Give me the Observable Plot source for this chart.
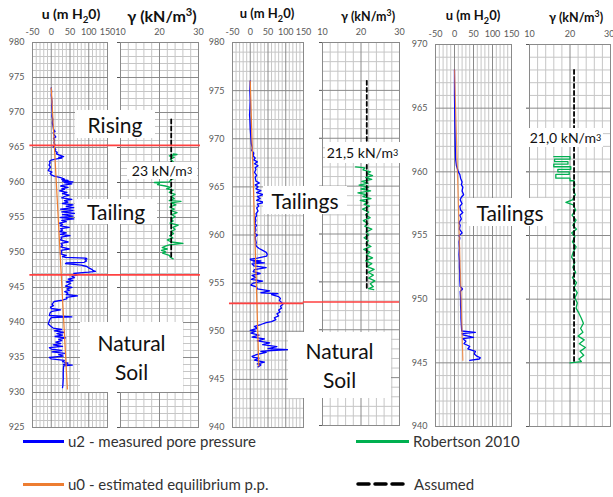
<!DOCTYPE html>
<html><head><meta charset="utf-8">
<script src="https://cdn.jsdelivr.net/npm/d3@7"></script>
<script src="https://cdn.jsdelivr.net/npm/@observablehq/plot@0.6"></script>
<style>
body{margin:0;background:#fff;}
#chart{position:relative;width:613px;height:497px;overflow:hidden;font-family:Lato,"Open Sans",sans-serif;background:#fff;}
#chart svg.layer{position:absolute;left:0;top:0;}
.lbl{position:absolute;background:#fff;color:#111;text-align:center;white-space:nowrap;font-size:21px;}
.ttl{position:absolute;font-weight:bold;color:#111;white-space:nowrap;transform:translate(-50%,-50%);line-height:1;}
.leg{position:absolute;color:#333;font-size:15px;line-height:1;white-space:nowrap;transform:translateY(-50%);}
.sw{position:absolute;height:3px;}
</style></head>
<body><div id="chart"></div>
<script>
// ---------- tick values ----------
const uTicks = [-50, 0, 50, 100, 150];
const uMinor = [-40,-30,-20,-10,10,20,30,40,60,70,80,90,110,120,130,140];
const gTicks = [10, 20, 30];
const gMinor = [12,14,16,18,22,24,26,28];
const elevTicksA = [925,930,935,940,945,950,955,960,965,970,975,980];
const elevTicksB = [940,945,950,955,960,965,970,975,980];
const elevTicksC = [940,945,950,955,960,965,970];

// ---------- Profile A (left) ----------
// [elevation, u2 (m H2O)]
const u2A = [[973.5,0],[973,1],[972.5,0],[972,1],[971.5,2],[971,1],[970.5,2],[970,3],[969.5,2],[969,4],[968.5,3],[968,5],[967.6,6],[967.3,10],[967.1,5],[966.8,8],[966.5,12],[966.3,6],[966,9],[965.7,7],[965.4,10],[965.2,5],[965,8],[964.7,12],[964.5,10],[964.3,16],[964.1,14],[963.9,22],[963.7,33],[963.6,20],[963.5,28],[963.4,18],[963.3,8],[963.2,0],[963,-5],[962.8,-3],[962.5,-6],[962.2,-2],[962,-5],[961.7,-8],[961.5,2],[961.3,-3],[961.1,0],[960.9,8],[960.7,25],[960.6,30],[960.5,35],[960.4,28],[960.3,45],[960.2,30],[960.1,58],[960,35],[959.8,55],[959.6,30],[959.5,25],[959.3,45],[959.1,28],[959,35],[958.8,22],[958.6,42],[958.4,30],[958.2,48],[958,35],[957.8,28],[957.6,55],[957.4,35],[957.2,45],[957,30],[956.8,58],[956.6,40],[956.4,60],[956.2,25],[956,58],[955.8,28],[955.6,62],[955.4,30],[955.2,58],[955,25],[954.8,60],[954.6,28],[954.4,40],[954.2,22],[954,30],[953.8,24],[953.6,48],[953.4,25],[953.2,30],[953,22],[952.8,40],[952.6,24],[952.4,50],[952.2,26],[952,28],[951.8,24],[951.5,45],[951.3,26],[951,30],[950.8,25],[950.5,48],[950.3,26],[950,28],[949.8,24],[949.6,40],[949.4,30],[949.3,38],[949.2,92],[949.1,95],[949,90],[948.8,94],[948.6,88],[948.5,40],[948.4,38],[948.2,80],[948,95],[947.8,100],[947.6,108],[947.4,112],[947.3,118],[947.2,100],[947.1,75],[947,60],[946.8,70],[946.6,55],[946.4,62],[946.2,45],[946,58],[945.8,40],[945.6,52],[945.4,45],[945.2,38],[945,55],[944.8,42],[944.6,48],[944.4,36],[944.2,45],[944,40],[943.8,70],[943.6,40],[943.4,42],[943.2,30],[943,8],[942.8,5],[942.6,2],[942.4,6],[942.2,-2],[942,0],[941.8,25],[941.6,2],[941.4,-3],[941,-5],[940.8,55],[940.7,0],[940.4,-4],[940.1,-6],[939.8,-8],[939.5,-2],[939.2,5],[939,28],[938.8,8],[938.6,35],[938.4,15],[938.2,30],[938,10],[937.8,38],[937.6,20],[937.4,28],[937.2,12],[937,25],[936.8,5],[936.6,30],[936.4,-5],[936.2,0],[936,28],[935.8,2],[935.6,36],[935.4,20],[935.2,32],[935,-5],[934.8,0],[934.6,35],[934.4,30],[934.2,45],[934,32],[933.9,56],[933.8,33],[933,32],[932,32],[931,31],[930.7,30]];
const u0A = [[973.5,0],[930.5,43]];
// [elevation, unit weight (kN/m3)]
const gammaA = [[964.1,23.5],[964,24.5],[963.8,22.5],[963.6,23.8],[963.3,22.8],[963,23.5],[962.5,23],[962,23.8],[961.5,22.8],[961,23.5],[960.7,24.2],[960.4,23],[960.1,22.5],[960,18.7],[959.9,20],[959.7,19.5],[959.5,21.5],[959.3,22.8],[959.1,21.8],[958.9,23.5],[958.6,22.5],[958.3,24],[958,23],[957.7,23.8],[957.4,22.5],[957.3,25.5],[957.1,23],[956.8,24.2],[956.5,22.6],[956.2,23.8],[956,22.8],[955.7,24.5],[955.4,23.2],[955.1,24],[954.8,23],[954.5,23.5],[954.2,22.7],[953.9,24.8],[953.6,23.4],[953.3,24],[953,23],[952.7,23.6],[952.4,22.6],[952.1,23.4],[951.8,22],[951.5,23],[951.3,26],[951.1,22.5],[950.9,21.5],[950.7,20.7],[950.5,22],[950.3,20.5],[950.1,21.6],[949.9,20.8],[949.6,22.5],[949.3,22.8],[949.1,23.5]];
const assumedA = [[969,23],[949.1,23]];
const boundariesA = [965.3, 946.8];

// ---------- Profile B (middle) ----------
const u2B = [[976,0],[975,-1],[974,0],[973,-1],[972.5,-2],[972,-1],[971,0],[970.5,1],[970,2],[969.5,3],[969,6],[968.8,4],[968.5,10],[968.2,8],[968,14],[967.8,10],[967.6,20],[967.4,12],[967.2,22],[967,14],[966.8,16],[966.5,12],[966.2,18],[966,14],[965.6,16],[965.4,26],[965.2,14],[965,22],[964.8,16],[964.6,30],[964.4,18],[964.2,37],[964,20],[963.8,28],[963.6,18],[963.4,40],[963.2,20],[963,24],[962.8,18],[962.5,22],[962.2,16],[962,18],[961.8,14],[961.5,16],[961.2,13],[961,18],[960.8,14],[960.5,16],[960.2,12],[960,20],[959.8,14],[959.5,15],[959.2,17],[959,15],[958.8,18],[958.6,25],[958.4,35],[958.2,45],[958,48],[957.8,46],[957.6,20],[957.5,0],[957.4,2],[957.3,30],[957.2,8],[957.1,40],[957,5],[956.8,10],[956.6,45],[956.4,12],[956.2,8],[956,28],[955.8,5],[955.6,15],[955.4,3],[955.2,35],[955,8],[954.8,2],[954.6,18],[954.4,20],[954.2,55],[954,30],[953.9,78],[953.8,60],[953.6,80],[953.4,85],[953.2,82],[953,88],[952.8,92],[952.6,85],[952.4,88],[952.2,80],[952,84],[951.8,75],[951.6,80],[951.4,68],[951.2,72],[951,60],[950.9,45],[950.7,30],[950.5,12],[950.3,20],[950.1,0],[950,15],[949.8,2],[949.6,25],[949.4,5],[949.2,40],[949,20],[948.8,55],[948.6,35],[948.4,75],[948.2,50],[948.1,105],[948,60],[947.9,30],[947.8,45],[947.6,20],[947.4,5],[947.3,8],[947.2,25],[947,12],[946.8,40],[946.6,20],[946.5,30],[946.3,22]];
const u0B = [[976,0],[946.4,24]];
const gammaB = [[967,18.6],[966.9,21],[966.7,20.5],[966.5,22.5],[966.3,21.5],[966.1,23],[965.9,21.2],[965.7,22.8],[965.5,20.2],[965.3,21.8],[965.1,19.5],[964.9,22],[964.7,20],[964.5,22.5],[964.3,19.2],[964.1,21.5],[963.9,20.5],[963.7,22.6],[963.5,19.8],[963.3,21.8],[963.1,20.8],[962.9,22.2],[962.6,20.4],[962.3,22],[962,21.2],[961.7,22.4],[961.4,20.6],[961.1,21.8],[960.8,21],[960.5,22.8],[960.2,21.3],[959.9,22],[959.6,20.8],[959.3,21.9],[959,21.3],[958.7,22.6],[958.4,20.7],[958.1,22.3],[957.8,21.4],[957.5,23],[957.2,21.2],[956.9,22.8],[956.6,21.6],[956.3,23.4],[956,21.8],[955.7,23.2],[955.4,22],[955.1,23.6],[954.8,22.4],[954.5,23.2],[954.3,22],[954.2,23.3]];
const assumedB = [[976,21.5],[954.3,21.5]];
const boundariesB = [952.9];

// ---------- Profile C (right) ----------
const u2C = [[968,0],[967,0],[966,0],[965,0.5],[964,1],[963,1.5],[962,2],[961,3],[960.5,5],[960.2,8],[960,10],[959.8,14],[959.5,16],[959.2,20],[959,18],[958.8,22],[958.5,20],[958.2,24],[958,18],[957.8,15],[957.5,20],[957.3,14],[957,16],[956.8,22],[956.6,14],[956.3,18],[956,12],[955.8,15],[955.5,13],[955.2,20],[955,12],[954.8,14],[954.5,12],[954,13],[953.5,12],[953,13],[952.5,13],[952,14],[951.5,14],[951,15],[950.8,21],[950.6,15],[950,16],[949.5,16],[949,17],[948.5,17],[948,18],[947.5,19],[947.4,55],[947.3,20],[947.2,22],[947,50],[946.9,22],[946.7,30],[946.5,25],[946.3,40],[946.1,35],[945.9,55],[945.7,52],[945.5,60],[945.4,68],[945.3,65],[945.2,40]];
const u0C = [[968,0],[945.2,22]];
const gammaC = [[961.2,16],[961.2,20],[961.0,20],[961.0,16.2],[960.8,16.2],[960.8,19.5],[960.6,19.5],[960.6,16],[960.4,16],[960.4,20.2],[960.2,20.2],[960.2,17],[960.0,17],[960.0,19.8],[959.8,19.8],[959.8,16.5],[959.5,16.5],[959.5,20],[959.3,20],[959.3,21],[959,21.2],[958.6,20.8],[958.2,21.3],[957.8,20.6],[957.6,19],[957.4,20.8],[957,21.4],[956.6,20.5],[956.2,21.5],[955.8,20.7],[955.5,21.6],[955.2,20.4],[954.9,21.2],[954.5,20.6],[954.1,21.5],[953.7,20.8],[953.3,20.4],[952.9,21.2],[952.5,20.7],[952.1,21.4],[951.7,20.6],[951.3,21.6],[950.9,21],[950.5,21.8],[950.1,21.2],[949.7,21.8],[949.3,21.5],[948.9,22.2],[948.5,22.8],[948.1,23.3],[947.7,22.6],[947.4,23.2],[947.1,22],[946.8,23.5],[946.5,22.3],[946.2,23.8],[945.9,22.5],[945.6,23.4],[945.3,22.2],[945.1,22.8],[945,20]];
const assumedC = [[968,21],[945,21]];

// ---------- colours ----------
const BLUE = "#0000ff", ORANGE = "#ed7d31", GREEN = "#00b050", RED = "#ff4040";
const MAJOR = "#8a8a8a", MINOR = "#c6c6c6";

function minorOf(ticks) {
  const lo = d3.min(ticks), hi = d3.max(ticks);
  return d3.range(lo, hi + 1).filter(v => v % 5 !== 0);
}

function panel({xDomain, yDomain, frame, xTicks, xMinor, yTicks, yLabels, marks, lastTickShift = 0}) {
  const [l, r, t, b] = frame;
  const svg = Plot.plot({
    width: 613, height: 497,
    marginLeft: l, marginRight: 613 - r, marginTop: t, marginBottom: 497 - b,
    style: {background: "transparent", overflow: "visible", fontFamily: "Lato, sans-serif", fontSize: "9px", color: "#595959"},
    x: {domain: xDomain, axis: "top", ticks: xTicks, tickSize: 0, tickPadding: 8, label: null, tickFormat: d => String(d)},
    y: {domain: yDomain, axis: "left", ticks: yTicks, tickSize: yLabels ? 0 : 3, tickPadding: 8, label: null,
        tickFormat: yLabels ? (d => String(d)) : (() => "")},
    marks: [
      Plot.ruleX(xMinor, {stroke: MINOR, strokeWidth: 1}),
      Plot.ruleY(minorOf(yTicks), {stroke: MINOR, strokeWidth: 1}),
      Plot.ruleX(xTicks, {stroke: MAJOR, strokeWidth: 1}),
      Plot.ruleY(yTicks, {stroke: MAJOR, strokeWidth: 1}),
      Plot.frame({stroke: MAJOR}),
      ...marks
    ]
  });
  svg.classList.add("layer");
  return svg;
}

const lineOpts = (color, w) => ({x: d => d[1], y: d => d[0], stroke: color, strokeWidth: w});
const dashOpts = {x: d => d[1], y: d => d[0], stroke: "#000", strokeWidth: 1.8, strokeDasharray: "4,3"};

const chart = document.getElementById("chart");

// Panel A
chart.append(panel({xDomain: [-50,150], yDomain: [925,980], frame: [32,107,42,427], xTicks: uTicks, xMinor: uMinor, yTicks: elevTicksA, yLabels: true,
  marks: [Plot.line(u2A, lineOpts(BLUE, 1.3)), Plot.line(u0A, lineOpts(ORANGE, 1.2)),
          Plot.ruleY(boundariesA, {x1: -57, x2: 150, stroke: RED, strokeWidth: 1.6})]}));
chart.append(panel({xDomain: [10,30], yDomain: [925,980], frame: [120,198,42,427], xTicks: gTicks, xMinor: gMinor, yTicks: elevTicksA, yLabels: false,
  marks: [Plot.line(gammaA, lineOpts(GREEN, 1.3)), Plot.line(assumedA, dashOpts),
          Plot.ruleY(boundariesA, {x1: 6.6, x2: 30.5, stroke: RED, strokeWidth: 1.6})]}));
// Panel B
chart.append(panel({xDomain: [-50,150], yDomain: [940,980], frame: [232,303,42,427], xTicks: uTicks, xMinor: uMinor, yTicks: elevTicksB, yLabels: true,
  marks: [Plot.line(u2B, lineOpts(BLUE, 1.3)), Plot.line(u0B, lineOpts(ORANGE, 1.2)),
          Plot.ruleY(boundariesB, {x1: -58.5, x2: 150, stroke: RED, strokeWidth: 1.6})]}));
chart.append(panel({xDomain: [10,30], yDomain: [940,980], frame: [322,399,42,425], xTicks: gTicks, xMinor: gMinor, yTicks: elevTicksB, yLabels: false,
  marks: [Plot.line(gammaB, lineOpts(GREEN, 1.3)), Plot.line(assumedB, dashOpts),
          Plot.ruleY(boundariesB, {x1: 5.0, x2: 30, stroke: RED, strokeWidth: 1.6})]}));
// Panel C
chart.append(panel({xDomain: [-50,150], yDomain: [940,970], frame: [435,511,44,426], xTicks: uTicks, xMinor: uMinor, yTicks: elevTicksC, yLabels: true,
  marks: [Plot.line(u2C, lineOpts(BLUE, 1.3)), Plot.line(u0C, {...lineOpts(ORANGE, 1.2), strokeOpacity: 0.8})]}));
const lastPanel = panel({xDomain: [10,30], yDomain: [940,970], frame: [529,610,44,426], xTicks: gTicks, xMinor: gMinor, yTicks: elevTicksC, yLabels: false,
  marks: [Plot.line(gammaC, lineOpts(GREEN, 1.3)), Plot.line(assumedC, dashOpts)]});
chart.append(lastPanel);
// keep the right-most "30" tick label inside the picture
{
  const texts = [...lastPanel.querySelectorAll("text")].filter(t => t.textContent === "30");
  for (const t of texts) t.setAttribute("text-anchor", "end"), t.setAttribute("dx", "4");
}

// ---------- titles ----------
const titles = [
  ["u (m H<sub style='font-size:70%'>2</sub>0)", 71, 16, 14],
  ["γ (kN/m<sup style='font-size:70%'>3</sup>)", 162, 15, 16],
  ["u (m H<sub style='font-size:70%'>2</sub>0)", 267, 15, 13],
  ["γ (kN/m<sup style='font-size:70%'>3</sup>)", 368, 16, 12.5],
  ["u (m H<sub style='font-size:70%'>2</sub>0)", 473, 17, 13],
  ["γ (kN/m<sup style='font-size:70%'>3</sup>)", 576, 17, 12.5]
];
for (const [html, x, y, fs] of titles) {
  const d = document.createElement("div");
  d.className = "ttl"; d.innerHTML = html;
  d.style.left = x + "px"; d.style.top = y + "px"; d.style.fontSize = fs + "px";
  chart.append(d);
}

// ---------- annotation boxes ----------
const boxes = [
  ["Rising", 75, 110, 80, 28, 21],
  ["23 kN/m<sup style='font-size:65%;vertical-align:top;line-height:1'>3</sup>", 127, 162, 70, 17, 14],
  ["Tailing", 75, 199, 82, 25, 21],
  ["Natural<br>Soil", 80, 322, 103, 70, 21],
  ["21,5 kN/m<sup style='font-size:65%;vertical-align:top;line-height:1'>3</sup>", 325, 142, 75, 21, 14],
  ["Tailings", 263, 186, 84, 28, 21],
  ["Natural<br>Soil", 288, 332, 103, 66, 21],
  ["21,0 kN/m<sup style='font-size:65%;vertical-align:top;line-height:1'>3</sup>", 528, 128, 75, 19, 14],
  ["Tailings", 467, 198, 86, 28, 21]
];
for (const [html, x, y, w, h, fs] of boxes) {
  const d = document.createElement("div");
  d.className = "lbl"; d.innerHTML = html;
  Object.assign(d.style, {left: x + "px", top: y + "px", width: w + "px", height: h + "px", fontSize: fs + "px",
    display: "flex", alignItems: "center", justifyContent: "center", lineHeight: fs >= 20 ? "29px" : "1"});
  chart.append(d);
}

// ---------- legend ----------
const legend = [
  {label: "u2 - measured pore pressure", color: BLUE, x: 23, w: 41, y: 441},
  {label: "u0 - estimated equilibrium p.p.", color: ORANGE, x: 23, w: 41, y: 484},
  {label: "Robertson 2010", color: GREEN, x: 356, w: 53, y: 441},
  {label: "Assumed", color: null, x: 356, w: 54, y: 484}
];
for (const it of legend) {
  if (it.color) {
    const s = document.createElement("div");
    s.className = "sw";
    Object.assign(s.style, {left: it.x + "px", top: (it.y - 1.5) + "px", width: it.w + "px", background: it.color});
    chart.append(s);
  } else {
    const ns = "http://www.w3.org/2000/svg";
    const s = document.createElementNS(ns, "svg");
    s.setAttribute("width", it.w); s.setAttribute("height", 8);
    Object.assign(s.style, {position: "absolute", left: it.x + "px", top: (it.y - 4) + "px"});
    const ln = document.createElementNS(ns, "line");
    ln.setAttribute("x1", 2); ln.setAttribute("x2", it.w); ln.setAttribute("y1", 4); ln.setAttribute("y2", 4);
    ln.setAttribute("stroke", "#000"); ln.setAttribute("stroke-width", 3.5);
    ln.setAttribute("stroke-linecap", "round");
    ln.setAttribute("stroke-dasharray", "11,6,11,6,11,8,0.1,20");
    s.append(ln); chart.append(s);
  }
  const t = document.createElement("div");
  t.className = "leg"; t.textContent = it.label;
  t.style.left = (it.x + it.w + 4) + "px"; t.style.top = it.y + "px";
  chart.append(t);
}
</script>
</body></html>
